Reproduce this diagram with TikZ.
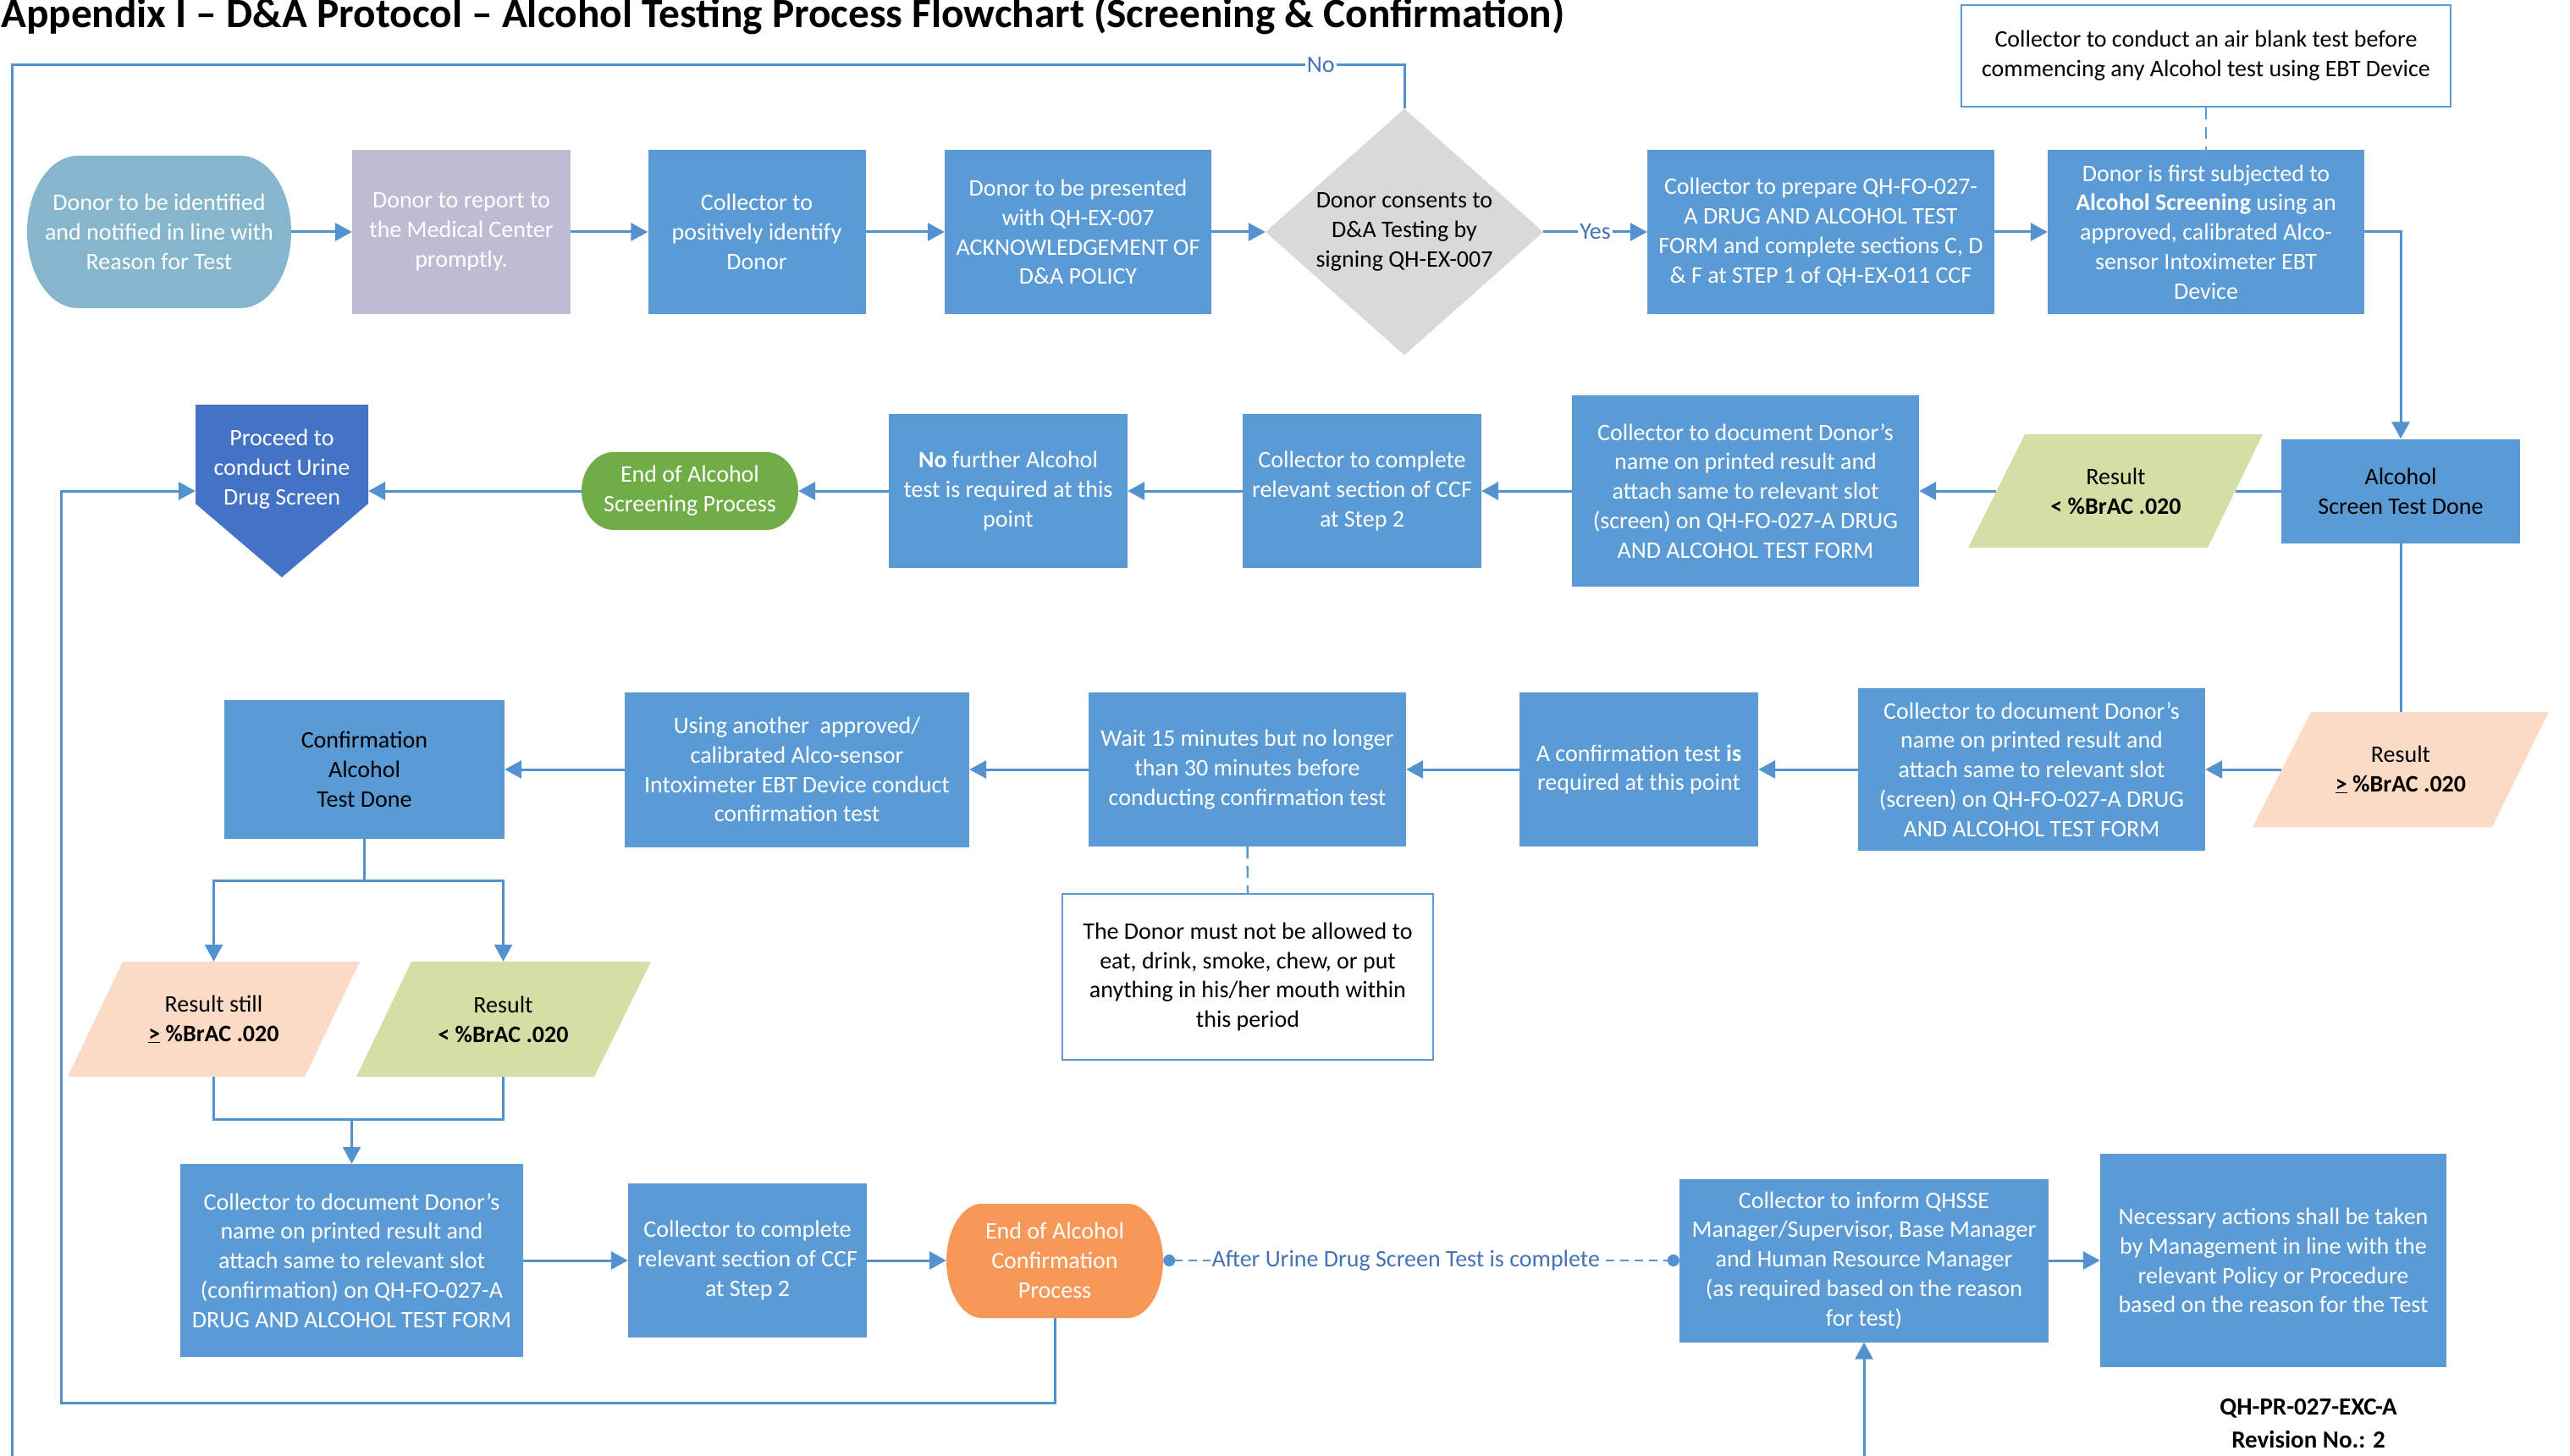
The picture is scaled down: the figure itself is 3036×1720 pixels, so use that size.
\documentclass[tikz,border=0pt]{standalone}
\usepackage{fontspec}
\setmainfont{Carlito}
\usepackage{graphicx}
\usetikzlibrary{arrows.meta}

\definecolor{boxblue}{RGB}{91,155,213}
\definecolor{linkblue}{RGB}{84,145,207}
\definecolor{startteal}{RGB}{134,182,204}
\definecolor{lavender}{RGB}{191,187,210}
\definecolor{diagray}{RGB}{217,217,217}
\definecolor{okgreen}{RGB}{211,224,165}
\definecolor{peach}{RGB}{252,219,198}
\definecolor{endgreen}{RGB}{112,173,71}
\definecolor{endorange}{RGB}{248,152,88}
\definecolor{procblue}{RGB}{68,114,196}
\definecolor{tagblue}{RGB}{68,114,180}

\tikzset{
  bodytext/.style={font=\fontsize{28}{34.8}\selectfont, align=center, inner sep=3pt},
  box/.style={bodytext, rectangle, fill=boxblue, text=white},
  bare/.style={bodytext, rectangle},
  note/.style={bodytext, rectangle, draw=boxblue, line width=2.5pt, fill=white, text=black},
  conn/.style={draw=linkblue, line width=3pt},
  arr/.style={conn, arrows={-Triangle[length=20pt,width=21pt]}},
  hint/.style={draw=boxblue, line width=2.5pt, dash pattern=on 14pt off 9pt},
  dotlink/.style={draw=linkblue, line width=2.5pt, dash pattern=on 10pt off 7pt,
    arrows={Circle[length=14pt]-Circle[length=14pt]}},
  tag/.style={font=\fontsize{28}{34.8}\selectfont, text=tagblue, fill=white, inner sep=2pt},
}

\begin{document}
\begin{tikzpicture}[x=1pt, y=-1pt]
\useasboundingbox (0,0) rectangle (3036,1720);
\fill[white] (0,0) rectangle (3036,1720);

% heading
\node[anchor=base west, inner sep=0] (title) at (1,33)
  {\resizebox{1847pt}{!}{\fontsize{46}{50}\selectfont\bfseries Appendix I – D\&A Protocol – Alcohol Testing Process Flowchart (Screening \& Confirmation)}};

% filled outlines of the non-rectangular symbols
\fill[startteal] (92,184) -- (284,184) .. controls (317,184) and (344,224) .. (344,274)
  .. controls (344,324) and (317,364) .. (284,364) -- (92,364)
  .. controls (59,364) and (32,324) .. (32,274) .. controls (32,224) and (59,184) .. (92,184) -- cycle;
\fill[diagray] (1659,128.5) -- (1823,274) -- (1659,419.5) -- (1495,274) -- cycle;
\fill[okgreen] (2392,513) -- (2673,513) -- (2608,647) -- (2325,647) -- cycle;
\fill[peach] (2730,841) -- (3011,841) -- (2944,977) -- (2661,977) -- cycle;
\fill[peach] (145,1136) -- (425,1136) -- (360,1272) -- (80,1272) -- cycle;
\fill[okgreen] (486,1136) -- (769,1136) -- (702,1272) -- (421,1272) -- cycle;
\fill[procblue] (231,478) -- (435,478) -- (435,595) -- (333,682) -- (231,595) -- cycle;
\fill[endgreen] (725,534) -- (905,534) .. controls (926,534) and (943,555) .. (943,580)
  .. controls (943,605) and (926,626) .. (905,626) -- (725,626)
  .. controls (704,626) and (687,605) .. (687,580) .. controls (687,555) and (704,534) .. (725,534) -- cycle;
\fill[endorange] (1160,1422) -- (1332,1422) .. controls (1355,1422) and (1374,1452.5) .. (1374,1489.5)
  .. controls (1374,1526.5) and (1355,1557) .. (1332,1557) -- (1160,1557)
  .. controls (1137,1557) and (1118,1526.5) .. (1118,1489.5) .. controls (1118,1452.5) and (1137,1422) .. (1160,1422) -- cycle;

% row 1
\node[bare, text=white, minimum width=312, minimum height=180] (t1) at (188,274)
  {Donor to be identified\\and notified in line with\\Reason for Test};
\node[box, fill=lavender, minimum width=258, minimum height=193] (b2) at (545,274)
  {Donor to report to\\the Medical Center\\promptly.};
\node[box, minimum width=257, minimum height=193] (b3) at (894,274)
  {Collector to\\positively identify\\Donor};
\node[box, minimum width=315, minimum height=193] (b4) at (1273.5,274)
  {Donor to be presented\\with QH-EX-007\\ACKNOWLEDGEMENT OF\\D\&A POLICY};
\node[bare, minimum width=328, minimum height=291] (dia) at (1659,274)
  {Donor consents to\\D\&A Testing by\\signing QH-EX-007};
\node[box, minimum width=410, minimum height=193] (b5) at (2151,274)
  {Collector to prepare QH-FO-027-\\A DRUG AND ALCOHOL TEST\\FORM and complete sections C, D\\\& F at STEP 1 of QH-EX-011 CCF};
\node[box, minimum width=374, minimum height=193] (b6) at (2606,274)
  {Donor is first subjected to\\\textbf{Alcohol Screening} using an\\approved, calibrated Alco-\\sensor Intoximeter EBT\\Device};
\node[note, minimum width=578, minimum height=120] (air) at (2606,66)
  {Collector to conduct an air blank test before\\commencing any Alcohol test using EBT Device};

% row 2
\node[box, text=black, minimum width=282, minimum height=123] (sdone) at (2836,580)
  {Alcohol\\Screen Test Done};
\node[bare, minimum width=282, minimum height=134] (gres) at (2499.5,580)
  {Result\\\textbf{< \%BrAC .020}};
\node[box, minimum width=410, minimum height=226] (docscr) at (2062,580)
  {Collector to document Donor's\\name on printed result and\\attach same to relevant slot\\(screen) on QH-FO-027-A DRUG\\AND ALCOHOL TEST FORM};
\node[box, minimum width=282, minimum height=182] (ccf1) at (1609,580)
  {Collector to complete\\relevant section of CCF\\at Step 2};
\node[box, minimum width=282, minimum height=182] (nofur) at (1191,580)
  {\textbf{No} further Alcohol\\test is required at this\\point};
\node[bare, text=white, minimum width=256, minimum height=92] (endscr) at (815,580)
  {End of Alcohol\\Screening Process};
\node[bare, text=white, minimum width=204, minimum height=152] (proceed) at (333,554)
  {Proceed to\\conduct Urine\\Drug Screen};

% row 3
\node[bare, minimum width=282, minimum height=136] (pres) at (2836,909)
  {Result\\\textbf{\underline{>} \%BrAC .020}};
\node[box, minimum width=410, minimum height=192] (doc2) at (2400,909)
  {Collector to document Donor's\\name on printed result and\\attach same to relevant slot\\(screen) on QH-FO-027-A DRUG\\AND ALCOHOL TEST FORM};
\node[box, minimum width=282, minimum height=182] (confreq) at (1936,909)
  {A confirmation test \textbf{is}\\required at this point};
\node[box, minimum width=375, minimum height=182] (wait) at (1473.5,909)
  {Wait 15 minutes but no longer\\than 30 minutes before\\conducting confirmation test};
\node[note, minimum width=438, minimum height=196] (hold) at (1474,1154)
  {The Donor must not be allowed to\\eat, drink, smoke, chew, or put\\anything in his/her mouth within\\this period};
\node[box, minimum width=407, minimum height=183] (using) at (941.5,909)
  {Using another\ \ approved/\\calibrated Alco-sensor\\Intoximeter EBT Device conduct\\confirmation test};
\node[box, text=black, minimum width=331, minimum height=164] (cdone) at (430.5,909)
  {Confirmation\\Alcohol\\Test Done};
\node[bare, minimum width=280, minimum height=136] (still) at (252.5,1204)
  {Result still\\\textbf{\underline{>} \%BrAC .020}};
\node[bare, minimum width=282, minimum height=136] (less) at (594.5,1204)
  {Result\\\textbf{< \%BrAC .020}};

% row 4
\node[box, minimum width=405, minimum height=228] (docconf) at (415.5,1489)
  {Collector to document Donor's\\name on printed result and\\attach same to relevant slot\\(confirmation) on QH-FO-027-A\\DRUG AND ALCOHOL TEST FORM};
\node[box, minimum width=282, minimum height=182] (ccf2) at (883,1489)
  {Collector to complete\\relevant section of CCF\\at Step 2};
\node[bare, text=white, minimum width=256, minimum height=135] (endconf) at (1246,1489)
  {End of Alcohol\\Confirmation\\Process};
\node[box, minimum width=436, minimum height=193] (inform) at (2202,1489)
  {Collector to inform QHSSE\\Manager/Supervisor, Base Manager\\and Human Resource Manager\\(as required based on the reason\\for test)};
\node[box, minimum width=409, minimum height=252] (act) at (2685.5,1489)
  {Necessary actions shall be taken\\by Management in line with the\\relevant Policy or Procedure\\based on the reason for the Test};
\node[font=\fontsize{29}{39}\selectfont\bfseries, align=center, inner sep=0] (docref) at (2727,1682)
  {QH-PR-027-EXC-A\\Revision No.: 2};

% free ends and bends
\coordinate (noturn) at (14,77);
\coordinate (noexit) at (14,1720);
\coordinate (fork) at (430.5,1040);
\coordinate (join) at (415.5,1322);
\coordinate (loopturn) at (72,1657);
\coordinate (fromdrug) at (2202,1720);

% connectors
\draw[arr] (t1.east) -- (b2.west);
\draw[arr] (b2.east) -- (b3.west);
\draw[arr] (b3.east) -- (b4.west);
\draw[arr] (b4.east) -- (dia.west);
\draw[arr] (dia.east) -- node[tag]{Yes} (b5.west);
\draw[conn] (dia.north) |- node[tag, pos=0.53]{No} (noturn) -- (noexit);
\draw[arr] (b5.east) -- (b6.west);
\draw[hint] (air.south) -- (b6.north);
\draw[arr] (b6.east) -| (sdone.north);
\draw[conn] (sdone.west) -- (gres.east);
\draw[arr] (gres.west) -- (docscr.east);
\draw[arr] (docscr.west) -- (ccf1.east);
\draw[arr] (ccf1.west) -- (nofur.east);
\draw[arr] (nofur.west) -- (endscr.east);
\draw[arr] (endscr.west) -- (endscr.west -| proceed.east);
\draw[conn] (sdone.south) -- (pres.north);
\draw[arr] (pres.west) -- (doc2.east);
\draw[arr] (doc2.west) -- (confreq.east);
\draw[arr] (confreq.west) -- (wait.east);
\draw[hint] (wait.south) -- (hold.north);
\draw[arr] (wait.west) -- (using.east);
\draw[arr] (using.west) -- (cdone.east);
\draw[conn] (cdone.south) -- (fork);
\draw[arr] (fork) -| (still.north);
\draw[arr] (fork) -| (less.north);
\draw[conn] (still.south) |- (join);
\draw[conn] (less.south) |- (join);
\draw[arr] (join) -- (docconf.north);
\draw[arr] (docconf.east) -- (ccf2.west);
\draw[arr] (ccf2.east) -- (endconf.west);
\draw[dotlink] (endconf.east) -- node[tag, pos=0.47]{After Urine Drug Screen Test is complete} (inform.west);
\draw[arr] (inform.east) -- (act.west);
\draw[arr] (fromdrug) -- (inform.south);
\draw[arr] (endconf.south) |- (loopturn) |- (proceed.west |- endscr.west);
\end{tikzpicture}
\end{document}
